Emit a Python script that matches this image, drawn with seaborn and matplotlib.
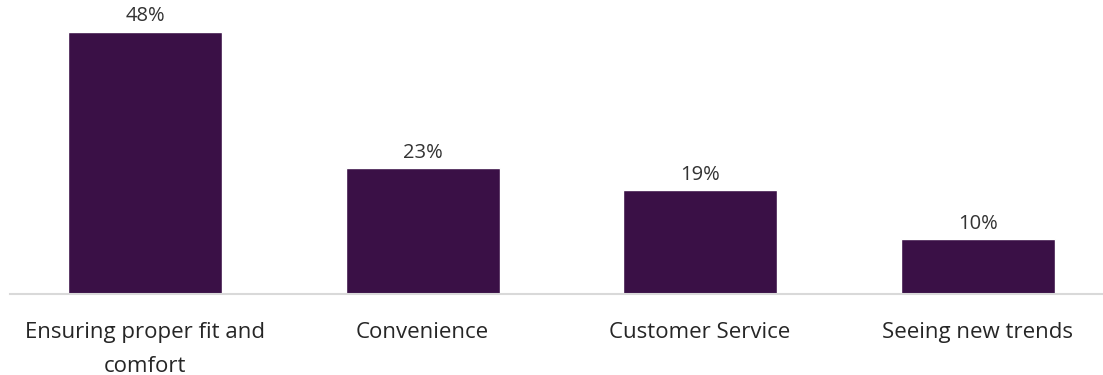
import matplotlib
matplotlib.use("Agg")
import matplotlib.pyplot as plt
import seaborn as sns
import pandas as pd

categories = ["Ensuring proper fit and\ncomfort", "Convenience", "Customer Service", "Seeing new trends"]
values = [48, 23, 19, 10]

df = pd.DataFrame({"category": categories, "value": values})

sns.set_style("white")
plt.rcParams["font.family"] = ["Open Sans", "DejaVu Sans"]

fig = plt.figure(figsize=(11.03, 3.75), dpi=100)
ax = fig.add_axes([10 / 1103, 81 / 375, 1093 / 1103, 273 / 375])

sns.barplot(data=df, x="category", y="value", color="#3a1046", width=0.555,
            saturation=1, ax=ax)

ax.set_xlim(-0.4865, 3.452)
ax.set_ylim(0, 50)

for i, v in enumerate(values):
    ax.annotate(f"{v}%", (i, v), xytext=(0, 4), textcoords="offset points",
                ha="center", va="bottom", fontsize=14.5, color="#333333",
                fontweight="medium")

for s in ["top", "right", "left"]:
    ax.spines[s].set_visible(False)
ax.spines["bottom"].set_color("#d9d9d9")
ax.spines["bottom"].set_linewidth(1.5)

ax.set_yticks([])
ax.set_xlabel("")
ax.set_ylabel("")
ax.tick_params(axis="x", length=0, pad=20, labelsize=16, labelcolor="#262626")
for lbl in ax.get_xticklabels():
    lbl.set_linespacing(1.8)
    lbl.set_fontweight("medium")

fig.savefig("out.png", dpi=100)
